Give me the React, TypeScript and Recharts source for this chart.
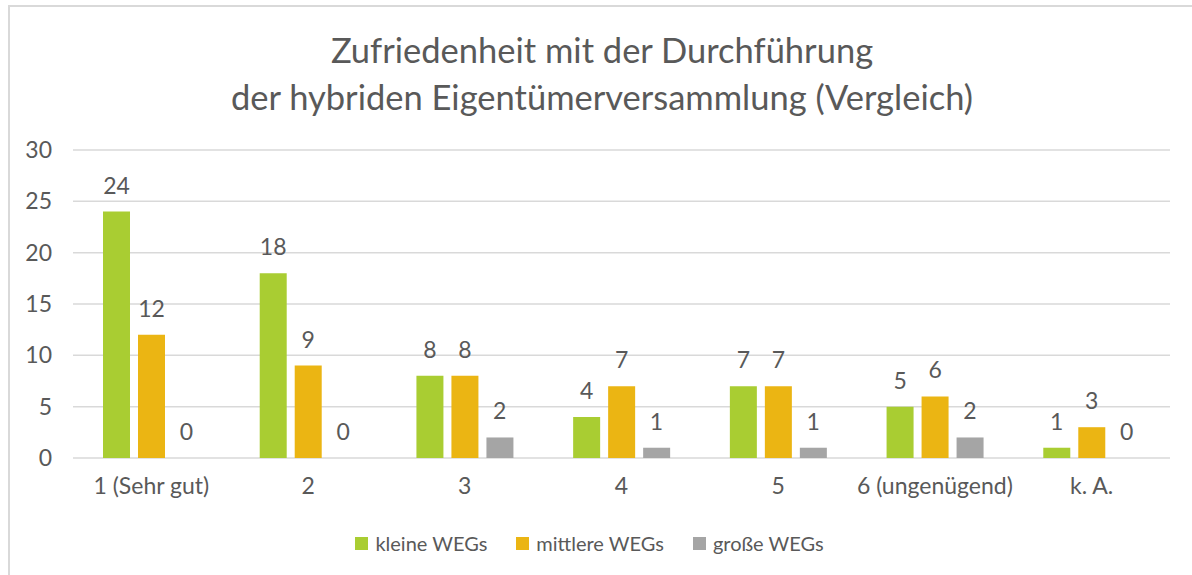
import React from 'react';
import { ComposedChart, Bar, Line, XAxis, YAxis, CartesianGrid, LabelList, Legend } from 'recharts';

const categories = ['1 (Sehr gut)', '2', '3', '4', '5', '6 (ungenügend)', 'k. A.'];
const kleine = [24, 18, 8, 4, 7, 5, 1];
const mittlere = [12, 9, 8, 7, 7, 6, 3];
const grosse = [0, 0, 2, 1, 1, 2, 0];
const yTicks = [0, 5, 10, 15, 20, 25, 30];
const seriesNames = ['kleine WEGs', 'mittlere WEGs', 'große WEGs'];
const colors = ['#A9CD32', '#EBB513', '#A5A5A5'];
const titleLines = ['Zufriedenheit mit der Durchführung', 'der hybriden Eigentümerversammlung (Vergleich)'];

const data = categories.map((c, i) => ({ name: c, k: kleine[i], m: mittlere[i], g: grosse[i] }));

const FONT = 'Lato, "Noto Sans", sans-serif';
const TXT = '#595959';
const BAR = 27;
const GAP = 8;
const LBL = 23;

const LegendContent = () => (
  <div style={{ display: 'flex', justifyContent: 'center', alignItems: 'center', height: 24, fontFamily: FONT, fontSize: 20, color: TXT, paddingRight: 13 }}>
    {seriesNames.map((n, i) => (
      <div key={n} style={{ display: 'flex', alignItems: 'center', marginRight: i < 2 ? 29 : 0 }}>
        <div style={{ width: 13, height: 13, background: colors[i], marginRight: 7 }} />
        <span>{n}</span>
      </div>
    ))}
  </div>
);

const GrayLabel = (props: any) => {
  const { x, y, value } = props;
  return (
    <text x={x + BAR + GAP} y={y - 18} textAnchor="middle" fill={TXT} fontSize={LBL} fontFamily={FONT}>{value}</text>
  );
};

export default function App() {
  return (
    <div style={{ position: 'absolute', left: 0, top: 0, width: 1192, height: 575, overflow: 'hidden', background: '#fff' }}>
      <div style={{ position: 'absolute', left: 8, top: 5, width: 1300, height: 700, border: '2px solid #D9D9D9', boxSizing: 'border-box' }} />
      <div style={{ position: 'absolute', left: 0, top: 26, width: 1204, textAlign: 'center', fontFamily: FONT, fontSize: 34.5, color: TXT, lineHeight: '47px' }}>
        {titleLines.map((l) => (<div key={l}>{l}</div>))}
      </div>
      <div style={{ position: 'absolute', left: 0, top: 0 }}>
        <ComposedChart width={1192} height={575} data={data} margin={{ top: 150, right: 22, left: 0, bottom: 53 }} barSize={BAR} barGap={GAP}>
          <CartesianGrid vertical={false} stroke="#D9D9D9" strokeWidth={1.5} />
          <XAxis dataKey="name" axisLine={false} tickLine={false} tickSize={0} tickMargin={20} height={40} interval={0}
            tick={{ fill: TXT, fontSize: LBL, fontFamily: FONT }} />
          <YAxis domain={[0, 30]} ticks={yTicks} axisLine={false} tickLine={false} tickSize={0} tickMargin={21} width={73}
            tick={{ fill: TXT, fontSize: LBL, fontFamily: FONT }} />
          <Legend verticalAlign="bottom" wrapperStyle={{ top: 531, left: 0, width: 1192 }} content={<LegendContent />} />
          <Bar dataKey="k" name={seriesNames[0]} fill={colors[0]} isAnimationActive={false}>
            <LabelList dataKey="k" position="top" offset={18} fill={TXT} fontSize={LBL} fontFamily={FONT} />
          </Bar>
          <Bar dataKey="m" name={seriesNames[1]} fill={colors[1]} isAnimationActive={false}>
            <LabelList dataKey="m" position="top" offset={18} fill={TXT} fontSize={LBL} fontFamily={FONT} />
          </Bar>
          <Bar dataKey="g" name={seriesNames[2]} fill={colors[2]} isAnimationActive={false} />
          <Line dataKey="g" stroke="none" dot={false} activeDot={false} legendType="none" isAnimationActive={false}>
            <LabelList dataKey="g" content={<GrayLabel />} />
          </Line>
        </ComposedChart>
      </div>
    </div>
  );
}
